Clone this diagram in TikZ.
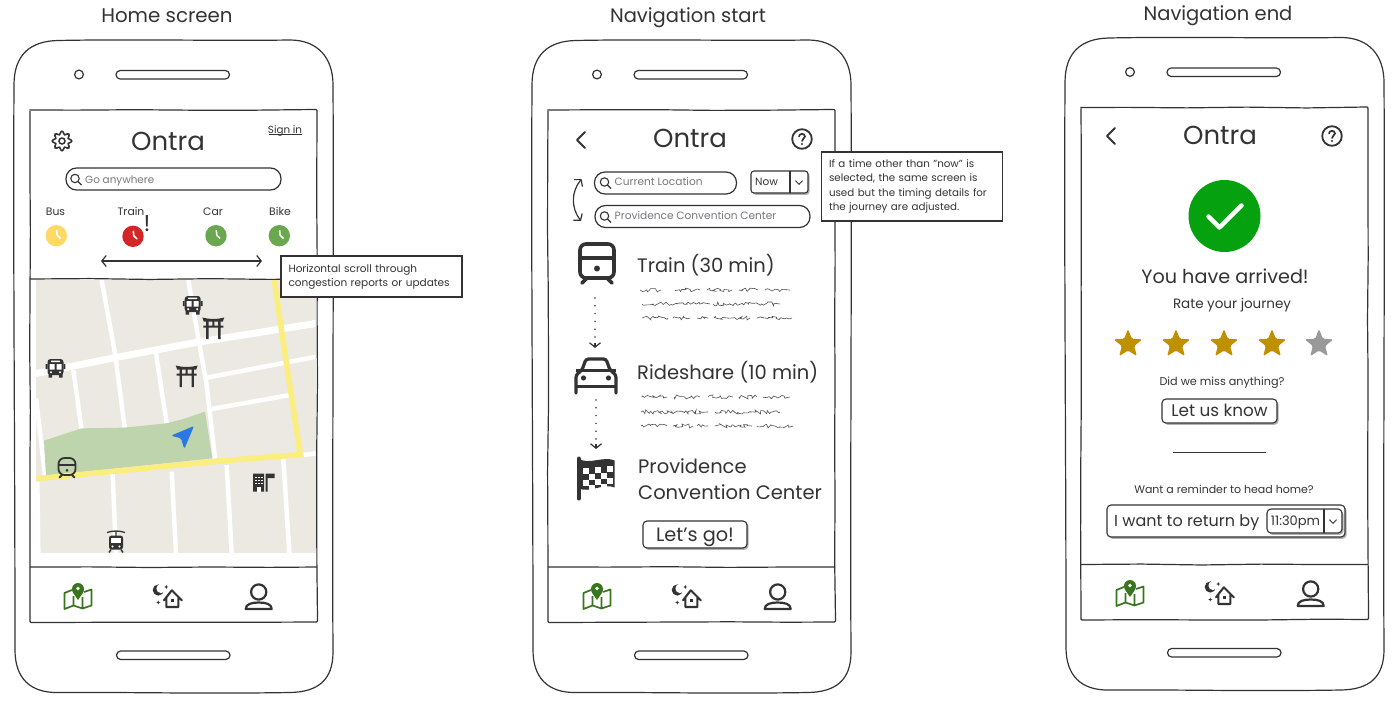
\documentclass[tikz,border=0pt]{standalone}
\usepackage{fontspec}
\setmainfont{Poppins}
\usetikzlibrary{arrows.meta,shapes.geometric,shadows,decorations.pathmorphing}
\definecolor{ink}{HTML}{333333}
\definecolor{hint}{HTML}{77777F}
\definecolor{tan}{HTML}{EBE9E2}
\definecolor{park}{HTML}{BDD4AC}
\definecolor{yroad}{HTML}{FCEE7E}
\definecolor{navgreen}{HTML}{38761D}
\definecolor{gold}{HTML}{BF9000}
\definecolor{cyellow}{HTML}{FFD966}
\definecolor{cred}{HTML}{D32626}
\definecolor{cgreen}{HTML}{6AA84F}
\definecolor{okgreen}{HTML}{06A10F}
\definecolor{navblue}{HTML}{2B78E4}
\newcommand\fs[1]{\fontsize{#1}{#1}\selectfont}
\newcommand\fsb[2]{\fontsize{#1}{#2}\selectfont}
\tikzset{
  line/.style={draw=ink,line width=1.2pt},
  sketch/.style={draw=ink,line width=1.2pt,decorate,decoration={random steps,segment length=60pt,amplitude=.5pt},rounded corners=1pt},
  txt/.style={inner sep=0pt,text=ink},
  pill/.style={draw=ink,line width=1.2pt,rounded corners=10.5pt,fill=white,inner sep=0pt},
  btn/.style={draw=ink,line width=1.1pt,rounded corners=4pt,fill=white,inner sep=0pt,text=ink,
     general shadow={shadow xshift=1.6pt,shadow yshift=-1.8pt,fill=black!30}},
  note/.style={draw=ink,line width=1.1pt,fill=white,inner xsep=7.5pt,inner ysep=0pt,text=ink,align=left,anchor=center},
  barb/.style={draw=ink,line width=1.2pt,{Straight Barb[length=4.5pt,width=11pt]}-{Straight Barb[length=4.5pt,width=11pt]}},
  barbend/.style={draw=ink,line width=1.2pt,-{Straight Barb[length=4.5pt,width=11pt]}},
  dotarrow/.style={draw=ink,line width=1.7pt,line cap=round,dash pattern=on 0pt off 7.8pt},
  squig/.style={draw=ink!85,line width=.6pt,decorate,decoration={random steps,segment length=2pt,amplitude=2pt}},
  startip/.style={star,star points=5,star point ratio=2.3,minimum size=30pt,inner sep=0pt,rounded corners=1.5pt},
  pics/mag/.style={code={\draw[ink,line width=1.1pt] (-1,-1) circle[radius=4.2]; \draw[ink,line width=1.3pt] (2,2)--(5.5,5.5);}},
  pics/clockicon/.style={code={\fill[#1] (0,0) circle[radius=10.7];\draw[white,line width=1.5pt,line join=round] (0.3,-5.5)--(.8,-.5)--(4.2,2.8);}},
  pics/chev/.style={code={\draw[ink,line width=1pt,line join=round] (-3.5,-1.8)--(0,1.8)--(3.5,-1.8);}},
  pics/trainicon/.style={code={
    \draw[ink,rounded corners=6pt] (-17,-19) rectangle (17,15);
    \draw[ink] (-17,-5)--(17,-5);
    \fill[ink] (0,5.5) circle[radius=3];
    \draw[ink,line cap=round] (-10,15)--(-15,20) (10,15)--(15,20);}},
  pics/busicon/.style={code={
    \fill[ink,rounded corners=3pt] (-8,-9) rectangle (8,7);
    \fill[white] (-6,-4) rectangle (-1,1.5) (1,-4) rectangle (6,1.5) (-4.5,-7.3) rectangle (4.5,-6);
    \fill[white] (-4.5,4.2) circle[radius=1.2] (4.5,4.2) circle[radius=1.2];
    \fill[ink] (-7,6) rectangle (-3.5,9.5) (3.5,6) rectangle (7,9.5) (-9.8,-4) rectangle (-8,1) (8,-4) rectangle (9.8,1);}},
  pics/torii/.style={code={
    \fill[ink] (-11,-11) .. controls (-4,-9) and (4,-9) .. (11,-11) -- (9.5,-7) -- (-9.5,-7) -- cycle;
    \fill[ink] (-10,-3) rectangle (10,-.8) (-7.2,-8) rectangle (-4.8,10.5) (4.8,-8) rectangle (7.2,10.5) (-1,-8) rectangle (1,-2);}},
  pics/building/.style={code={
    \fill[ink] (-11,-9) rectangle (0,9) (1.5,-9) rectangle (3.5,9) (3.5,-9) rectangle (10.5,-4.5);
    \foreach \a in {-8.6,-5.6,-2.6} \foreach \b in {-6,-3,0} \fill[white] (\a,\b) rectangle ++(1.7,1.5);
    \fill[white] (-7,4) rectangle (-3.5,9);}},
  pics/tramicon/.style={code={
    \draw[ink,line width=1.3pt] (-9,-9) .. controls (-3,-11) and (3,-11) .. (9,-9) (0,-10)--(0,-5);
    \fill[ink,rounded corners=2.5pt] (-7,-6) rectangle (7,8);
    \fill[white] (-4.6,-3.3) rectangle (4.6,1.5);
    \fill[white] (-3.5,5) circle[radius=1.1] (3.5,5) circle[radius=1.1];
    \draw[ink,line width=1.5pt] (-5,8)--(-7,11) (5,8)--(7,11);}},
  pics/caricon/.style={code={
    \draw[ink,line join=round,line cap=round,rounded corners=2.5pt] (-20,18)--(-20,0)--(-14,-5)--(-10,-16)--(10,-16)--(14,-5)--(20,0)--(20,18);
    \draw[ink] (-20,-4.5)--(20,-4.5) (-20,11.5)--(20,11.5);
    \fill[ink] (-12.5,3) circle[radius=2.6] (12.5,3) circle[radius=2.6];}},
  pics/flagicon/.style={code={
    \draw[ink,line width=4pt,line cap=round] (-17,-20)--(-17,20);
    \fill[ink] (-17,-20) .. controls (-8,-13) and (8,-23) .. (19,-18) -- (19,9) .. controls (8,4) and (-6,15) .. (-17,10) -- cycle;
    \foreach \a/\b in {-13/-11,-1/-12,11/-13,-7/-5,5/-6,-13/1,-1/0,11/-1,-7/6,5/5}
      \fill[white] (\a,\b) rectangle ++(6,6);}},
  pics/mapicon/.style={code={
    \draw[navgreen,line width=1.7pt,line join=round] (-6,-7)--(-13.5,-4)--(-13.5,12)--(-4.5,8.5)--(4.5,11.5)--(13.5,8.5)--(13.5,-7.5)--(6,-5)
       (-4.5,-1)--(-4.5,8.5) (4.5,0)--(4.5,11.5);
    \fill[navgreen] (0,3) .. controls (-3,-2) and (-6,-4) .. (-6,-8) .. controls (-6,-11.5) and (-3,-14) .. (0,-14) .. controls (3,-14) and (6,-11.5) .. (6,-8) .. controls (6,-4) and (3,-2) .. (0,3) -- cycle;
    \fill[white] (0,-8.5) circle[radius=1.9];}},
  pics/nighthome/.style={code={
    \draw[ink,line width=2.1pt,line join=round,line cap=round] (-4.3,3.3)--(3.5,-6.7)--(13.5,3.3) (-2,1)--(-2,10)--(10,10)--(10,1);
    \fill[ink] (2.2,2.2) rectangle (5.2,5.2);
    \fill[ink] (-10,-7) circle[radius=5.6];
    \fill[white] (-7.3,-8.5) circle[radius=4.6];
    \fill[ink] (-2,-12)--(-1.4,-10.6)--(0,-10)--(-1.4,-9.4)--(-2,-8)--(-2.6,-9.4)--(-4,-10)--(-2.6,-10.6)--cycle;
    \fill[ink] (-10,3.5)--(-9.4,4.9)--(-8,5.5)--(-9.4,6.1)--(-10,7.5)--(-10.6,6.1)--(-12,5.5)--(-10.6,4.9)--cycle;}},
  pics/person/.style={code={
    \draw[ink,line width=2.2pt] (0,-5) circle[radius=7.6];
    \draw[ink,line width=2.2pt,line join=round] (-13,12) .. controls (-13,7) and (-7,5.5) .. (0,5.5) .. controls (7,5.5) and (13,7) .. (13,12) -- cycle;}},
  pics/quest/.style={code={\draw[ink,line width=1.8pt] (0,0) circle[radius=9.8];
    \draw[ink,line width=1.7pt,line cap=round] (-3,-2.5) .. controls (-3,-6) and (3,-6) .. (3,-2.5) .. controls (3,-.5) and (0,-.5) .. (0,2);
    \fill[ink] (0,5) circle[radius=1.1];}},
  pics/backchev/.style={code={\draw[ink,line width=1.8pt,line join=round,line cap=round] (4,-8)--(-4,0)--(4,8);}},
}
\newcommand\phoneframe{%
  \draw[line] (14,85) .. controls (14,55) and (30,41) .. (58,40.5) .. controls (130,39) and (220,41) .. (290,40) .. controls (318,40) and (333,58) .. (333,85)
     .. controls (334,250) and (332,500) .. (333,652) .. controls (333,680) and (318,692) .. (290,692.5) .. controls (200,694) and (130,692) .. (58,692.5) .. controls (30,693) and (15,678) .. (15,650) .. controls (15,450) and (13,250) .. (14,85) -- cycle;
  \draw[line] (79,74.5) circle[radius=4.4];
  \draw[line,rounded corners=4.2pt] (116,70.5) rectangle (229.5,79);
  \draw[line,rounded corners=4.2pt] (116.5,651) rectangle (230,659.5);
  \draw[sketch] (30,110) rectangle (317,622);
  \draw[sketch] (30,567) -- (317,567);
}
\newcommand\navbar{%
  \pic at (78,597) {mapicon};
  \pic at (168.3,597) {nighthome};
  \pic at (258.7,597) {person};
}
\newcommand\scrib[3]{\draw[squig] (#1,#3)--(#2,#3);}
\begin{document}
\begin{tikzpicture}[x=1pt,y=-1pt]
\useasboundingbox (0,0) rectangle (1397,704);
\fill[white] (0,0) rectangle (1397,704);

% ---------- map ----------
\fill[tan] (36,280) rectangle (315.5,553);
\begin{scope}
\clip (36,280) rectangle (315.5,553);
\begin{scope}[shift={(20,275)},x=.33333pt,y=-.33333pt]
  \draw[white,line width=4.5pt] (245,15)--(285,235)--(315,465) (278,595)--(288,835);
  \draw[white,line width=4.5pt] (505,15)--(535,190)--(560,330)--(585,550) (620,570)--(635,835);
  \draw[white,line width=7pt] (40,297)--(290,247)--(530,202)--(890,145);
  \draw[white,line width=4.5pt] (160,285)--(185,465) (408,235)--(440,445);
  \draw[white,line width=4.5pt] (560,308)--(890,245) (575,402)--(810,360);
  \draw[white,line width=4.5pt] (48,370)--(75,600) (52,620)--(55,835);
  \draw[white,line width=4.5pt] (455,590)--(468,835) (790,550)--(808,835) (850,540)--(890,535);
  \fill[park] (72,497)--(185,460)--(310,458)--(440,445)--(490,432)--(555,410)--(577,550)--(78,602)--cycle;
  \draw[yroad,line width=5.5pt] (50,611)--(270,590)--(600,558)--(850,538);
  \draw[yroad,line width=5.5pt,line join=round] (762,10)--(800,270)--(842,545);
  \fill[navblue,rounded corners=1.5pt] (453,482)--(522,453)--(493,522)--(483,490)--cycle;
\end{scope}
\end{scope}
\pic[scale=.5,line width=1.8pt] at (67,467.5) {trainicon};
\pic at (192.7,305) {busicon};
\pic at (55.5,368) {busicon};
\pic at (213.3,328.5) {torii};
\pic at (186.7,376.5) {torii};
\pic at (264,482.5) {building};
\pic at (116,541.5) {tramicon};

% ---------- phone 1 ----------
\phoneframe
\draw[sketch] (30,279) -- (317,279);
\navbar
\node[txt,anchor=mid,font=\fs{19.8}] (t1) at (167,20) {Home screen};
\node[txt,anchor=mid,font=\fs{26}] (o1) at (168,148) {Ontra};
\draw[ink,line width=1.6pt] plot[smooth cycle,samples=48,domain=0:352.5] ({62+(8.2+1.5*cos(8*\x))*cos(\x)},{141+(8.2+1.5*cos(8*\x))*sin(\x)});
\draw[ink,line width=1.5pt] (62,141) circle[radius=3];
\node[txt,anchor=mid,font=\fs{10.3}] (si) at (285,131) {Sign in};
\draw[ink,line width=.7pt] (269,134.5)--(302,134.5);
\node[pill,minimum width=215pt,minimum height=22pt] (srch) at (173.5,179) {};
\pic at (76,179.5) {mag};
\node[txt,anchor=mid west,text=hint,font=\fs{10.4}] (ga) at (85,180.5) {Go anywhere};
\node[txt,anchor=mid,font=\fs{10.8}] (bus) at (55.5,212.5) {Bus};
\node[txt,anchor=mid,font=\fs{10.8}] (trn) at (131,212.5) {Train};
\node[txt,anchor=mid,font=\fs{10.8}] (car) at (213,212.5) {Car};
\node[txt,anchor=mid,font=\fs{10.8}] (bik) at (280,212.5) {Bike};
\pic at (56.3,235.7) {clockicon={cyellow}};
\pic at (133,236.3) {clockicon={cred}};
\pic at (216,235.7) {clockicon={cgreen}};
\pic at (279.3,235.7) {clockicon={cgreen}};
\node[txt,anchor=mid,font=\fs{23}] (ex) at (147,229) {!};
\coordinate (sl) at (101,261);
\coordinate (sr) at (262,261);
\draw[barb] (sl)--(sr);
\node[note,text width=166pt,minimum height=41pt,font=\fsb{10.5}{14}] (n1) at (371.5,276.5) {Horizontal scroll through\\congestion reports or updates};

% ---------- phone 2 ----------
\begin{scope}[shift={(518,0)}]
\phoneframe
\end{scope}
\begin{scope}[shift={(519,0)}]
\navbar
\end{scope}
\node[txt,anchor=mid,font=\fs{19.5}] (t2) at (688,20) {Navigation start};
\node[txt,anchor=mid,font=\fs{26}] (o2) at (690,145) {Ontra};
\pic at (581,140) {backchev};
\pic at (802,139) {quest};
\coordinate (sa) at (581.5,179);
\coordinate (sb) at (581,221);
\draw[barb] (sa) .. controls (571,192) and (571,208) .. (sb);
\node[pill,minimum width=142pt,minimum height=22pt] (p1) at (665.5,183) {};
\node[pill,minimum width=215pt,minimum height=22pt] (p2) at (702.5,216.5) {};
\pic at (605.5,183) {mag};
\pic at (605.5,217) {mag};
\node[txt,anchor=mid west,text=hint,font=\fs{10.6}] (cl) at (614.5,183) {Current Location};
\node[txt,anchor=mid west,text=hint,font=\fs{10.6}] (pc) at (614.5,217) {Providence Convention Center};
\node[btn,minimum width=57pt,minimum height=22pt,rounded corners=3pt] (now) at (779.5,182) {};
\draw[ink,line width=1.1pt] (790,171)--(790,193);
\node[txt,anchor=mid west,font=\fs{10.5}] (nw) at (755,183) {Now};
\pic at (799,182.5) {chev};
\node[note,text width=166pt,minimum height=69pt,font=\fsb{10.3}{14.4}] (n2) at (912,186.5) {If a time other than "now" is\\selected, the same screen is\\used but the timing details for\\the journey are adjusted.};
\pic[line width=3.6pt] at (597,263) {trainicon};
\node[txt,anchor=mid west,font=\fs{19.5}] (tr30) at (637,270) {Train (30 min)};
\scrib{640}{661}{290}\scrib{675}{700}{290}\scrib{707}{732}{290}\scrib{739}{758}{290}\scrib{765}{790}{290}
\scrib{642}{710}{304}\scrib{713}{780}{304}
\scrib{642}{668}{318}\scrib{673}{690}{318}\scrib{697}{708}{318}\scrib{714}{750}{318}\scrib{757}{792}{318}
\coordinate (d1) at (595,298);
\coordinate (d2) at (595,348);
\draw[dotarrow] (d1)--(595,340);
\draw[barbend] (595,343)--(d2);
\pic[line width=3.2pt] at (596,375) {caricon};
\node[txt,anchor=mid west,font=\fs{19.5}] (rs) at (637,377) {Rideshare (10 min)};
\scrib{642}{667}{397}\scrib{674}{700}{397}\scrib{708}{733}{397}\scrib{739}{757}{397}\scrib{763}{790}{397}
\scrib{641}{708}{412}\scrib{715}{780}{412}
\scrib{641}{667}{426}\scrib{673}{693}{426}\scrib{697}{708}{426}\scrib{715}{752}{426}\scrib{757}{793}{426}
\coordinate (d3) at (596,400);
\coordinate (d4) at (596,449);
\draw[dotarrow] (d3)--(596,440);
\draw[barbend] (596,444)--(d4);
\pic[line width=3pt] at (595.7,478.5) {flagicon};
\node[txt,anchor=mid west,font=\fs{19.5}] (pv) at (638,471) {Providence};
\node[txt,anchor=mid west,font=\fs{19.5}] (cc) at (638,497) {Convention Center};
\node[btn,minimum width=104pt,minimum height=27pt] (go) at (695,534.5) {};
\node[txt,anchor=mid,font=\fs{19.3}] (gotxt) at (695,539) {Let's go!};

% ---------- phone 3 ----------
\begin{scope}[shift={(1051,-2.5)}]
\phoneframe
\end{scope}
\begin{scope}[shift={(1052,-3)}]
\navbar
\end{scope}
\node[txt,anchor=mid,font=\fs{19.5}] (t3) at (1218,17.5) {Navigation end};
\node[txt,anchor=mid,font=\fs{26}] (o3) at (1220,142) {Ontra};
\pic at (1111,136) {backchev};
\pic at (1332,136) {quest};
\fill[okgreen] (1224.5,216) circle[radius=36];
\draw[white,line width=4.5pt,line cap=round,line join=round] (1208.5,216.5)--(1219.5,227.5)--(1241.5,205.5);
\node[txt,anchor=mid,font=\fs{19.2}] (ar) at (1225,281) {You have arrived!};
\node[txt,anchor=mid,font=\fs{13.5}] (rj) at (1232,306) {Rate your journey};
\foreach \n/\sx/\c in {1/1128/gold,2/1176/gold,3/1224/gold,4/1272/gold,5/1319/black!40}
  \node[startip,fill=\c] (st\n) at (\sx,344) {};
\node[txt,anchor=mid,font=\fs{11.2}] (dm) at (1222,383) {Did we miss anything?};
\node[btn,minimum width=115pt,minimum height=24pt] (lk) at (1219.5,411) {};
\node[txt,anchor=mid,font=\fs{16.8}] (lktxt) at (1219.5,414) {Let us know};
\coordinate (ll) at (1173,452.5);
\coordinate (lr) at (1266,452.5);
\draw[ink,line width=1.1pt] (ll)--(lr);
\node[txt,anchor=mid,font=\fs{11}] (wr) at (1224,490.5) {Want a reminder to head home?};
\node[btn,minimum width=238pt,minimum height=32pt] (rb) at (1226,521) {};
\node[txt,anchor=mid west,font=\fs{16}] (ir) at (1114,524) {I want to return by};
\node[btn,general shadow={shadow xshift=0pt,shadow yshift=0pt,fill=white},minimum width=75pt,minimum height=24pt] (tb) at (1304.5,521) {};
\draw[ink,line width=1.1pt] (1324,509)--(1324,533);
\node[txt,anchor=mid,font=\fs{13}] (tt) at (1295.5,522.5) {11:30pm};
\pic at (1333,521.5) {chev};
\end{tikzpicture}
\end{document}
